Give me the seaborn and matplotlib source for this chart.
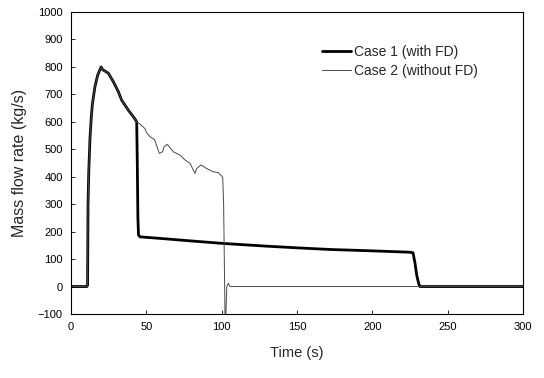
import matplotlib
matplotlib.use("Agg")
import matplotlib.pyplot as plt
import seaborn as sns
import pandas as pd

# ---- data ----
t_case1 = [0, 10.5, 11.0, 11.3, 11.8, 12.6, 13.5, 14.2, 15.9, 17.7, 19.2, 20.0,
           21.0, 22.5, 24.8, 28.1, 31.4, 33.6, 38.0, 42.5, 43.6, 44.0, 44.4, 44.8,
           45.8, 60, 80, 101, 130, 150, 171.9, 200, 225, 227, 228.3, 229.5, 230.8,
           231.6, 300]
v_case1 = [0, 0, 5, 300, 420, 540, 620, 665, 728, 770, 790, 800,
           790, 785, 777, 746, 710, 679, 643, 610, 600, 450, 250, 188,
           181, 175, 166, 157, 147, 141, 135, 130, 125, 123, 86, 40, 10,
           0, 0]

t_case2 = [0, 10.5, 11.0, 11.3, 11.8, 12.6, 13.5, 14.2, 15.9, 17.7, 19.2, 20.0,
           21.0, 22.5, 24.8, 28.1, 31.4, 33.6, 38.0, 42.5, 43.6, 45.8, 49.1, 50.2,
           52.4, 55.5, 58.6, 60.8, 61.7, 63.9, 67.9, 72.3, 75.7, 79.0, 82.3, 83.4,
           86.3, 90.0, 94.4, 97.8, 100.7, 101.3, 102.2, 102.8, 103.4, 104.4, 105.5,
           300]
v_case2 = [0, 0, 5, 300, 420, 540, 620, 665, 728, 770, 790, 800,
           790, 785, 777, 746, 710, 679, 643, 610, 600, 592, 575, 560,
           546, 535, 485, 491, 509, 518, 491, 479, 461, 449, 412, 430,
           443, 430, 418, 415, 398, 300, -100, -100, 0, 12, 0,
           0]

label_case1 = "Case 1 (with FD)"
label_case2 = "Case 2 (without FD)"
x_ticks = [0, 50, 100, 150, 200, 250, 300]
y_ticks = list(range(-100, 1001, 100))

df1 = pd.DataFrame({"Time": t_case1, "Flow": v_case1})
df2 = pd.DataFrame({"Time": t_case2, "Flow": v_case2})

sns.set_style("ticks")
plt.rcParams["font.family"] = ["Liberation Sans", "DejaVu Sans"]

fig = plt.figure(figsize=(5.44, 3.78), dpi=100)
ax = fig.add_axes([71 / 544, 64 / 378, 452 / 544, 302 / 378])

sns.lineplot(data=df1, x="Time", y="Flow", ax=ax, color="black", linewidth=2.0,
             sort=False, estimator=None, label=label_case1)
sns.lineplot(data=df2, x="Time", y="Flow", ax=ax, color="#4a4a4a", linewidth=0.7,
             sort=False, estimator=None, label=label_case2)

ax.set_xlim(0, 300)
ax.set_ylim(-100, 1000)
ax.set_xticks(x_ticks)
ax.set_yticks(y_ticks)
ax.tick_params(direction="in", length=3, width=0.6, labelsize=8, colors="black",
               pad=6)
for s in ax.spines.values():
    s.set_visible(True)
    s.set_linewidth(0.8)
    s.set_color("black")

ax.set_xlabel("Time (s)", fontsize=10.5, labelpad=10)
ax.set_ylabel("Mass flow rate (kg/s)", fontsize=11.5, labelpad=8)

leg = ax.legend(loc="upper left", bbox_to_anchor=(0.555, 0.89), frameon=False,
                fontsize=10, handlelength=2.1, handletextpad=0.25,
                labelspacing=0.35, borderpad=0, borderaxespad=0)

fig.savefig("out.png", dpi=100)
